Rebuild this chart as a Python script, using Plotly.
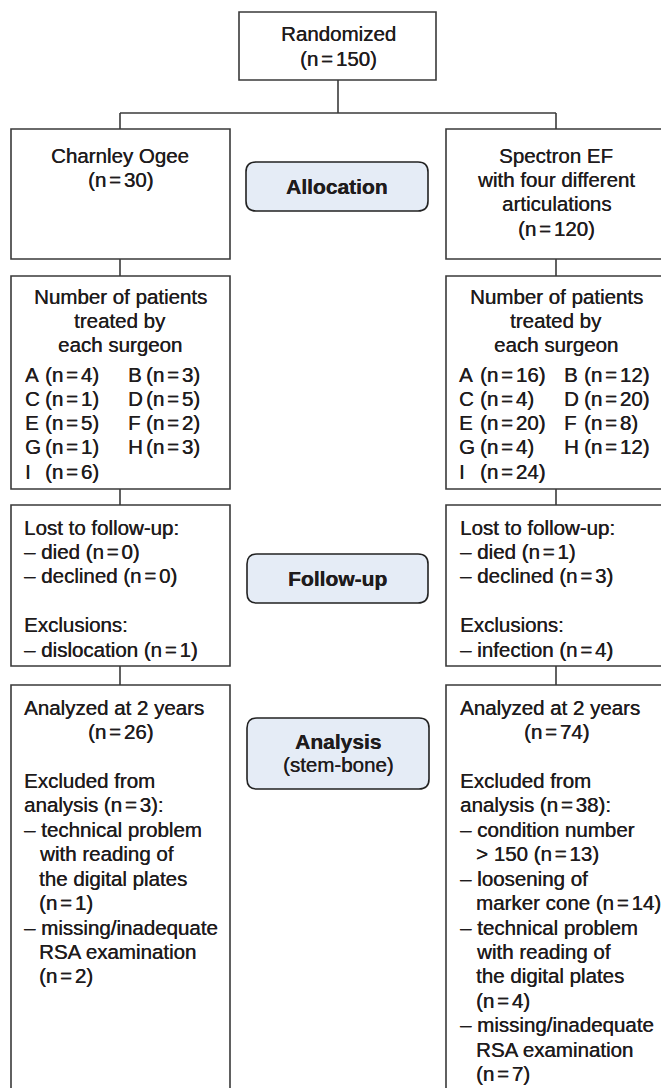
import plotly.graph_objects as go

# ---------------- content (data) ----------------
RANDOMIZED_N = 150
GROUPS = ["Charnley Ogee", "Spectron EF"]
GROUP_N = [30, 120]
SURGEONS = ["A", "B", "C", "D", "E", "F", "G", "H", "I"]
CHARNLEY_COUNTS = [4, 3, 1, 5, 5, 2, 1, 3, 6]
SPECTRON_COUNTS = [16, 12, 4, 20, 20, 8, 4, 12, 24]
DIED = [0, 1]
DECLINED = [0, 3]
EXCLUSION_REASON = ["dislocation", "infection"]
EXCLUSION_N = [1, 4]
ANALYZED_N = [26, 74]
EXCLUDED_N = [3, 38]
CHARNLEY_EXCL = [1, 2]            # technical problem, missing/inadequate
SPECTRON_EXCL = [13, 14, 4, 7]    # condition number, loosening, technical, missing
STAGES = ["Allocation", "Follow-up", "Analysis"]
STAGE_SUB = ["", "", "(stem-bone)"]

GAP = "<span style='font-size:10px'>\u00a0</span>"

def n(v):
    return "(n%s=%s%d)" % (GAP, GAP, v)

# ---------------- styles / layout ----------------
W, H = 661, 1088
FONT = "Liberation Sans, Arial, Helvetica, sans-serif"
FS = 20.5
TXT = "#1f1c1d"
SHADOW = "0.35px 0 0 #1f1c1d"
LINE = "#3a3a3a"
LW = 1.6
STAGE_FILL = "#e5ecf6"
LS = 24.45

COLS = [dict(x0=11, x1=230, cx=120, left=22, ind=37, let1=23, par1=43, let2=126, par2=144),
        dict(x0=446, x1=666, cx=556, left=458, ind=474, let1=457, par1=478, let2=562, par2=582)]

shapes = []
annotations = []

def rect(x0, y0, x1, y1):
    shapes.append(dict(type="rect", x0=x0, x1=x1, y0=y0, y1=y1, xref="x", yref="y",
                       line=dict(color=LINE, width=LW), fillcolor="rgba(0,0,0,0)"))

def seg(x0, y0, x1, y1):
    shapes.append(dict(type="line", x0=x0, x1=x1, y0=y0, y1=y1, xref="x", yref="y",
                       line=dict(color=LINE, width=LW)))

def rrect(x0, y0, x1, y1, r=10):
    p = (f"M {x0+r},{y0} L {x1-r},{y0} Q {x1},{y0} {x1},{y0+r} L {x1},{y1-r} "
         f"Q {x1},{y1} {x1-r},{y1} L {x0+r},{y1} Q {x0},{y1} {x0},{y1-r} "
         f"L {x0},{y0+r} Q {x0},{y0} {x0+r},{y0} Z")
    shapes.append(dict(type="path", path=p, xref="x", yref="y",
                       line=dict(color="#222222", width=LW), fillcolor=STAGE_FILL))

def text(x, y, s, anchor="center", bold=False, size=FS):
    if bold:
        s = "<b>" + s + "</b>"
    annotations.append(dict(x=x, y=y, xref="x", yref="y", text=s, showarrow=False,
                            xanchor=anchor, yanchor="middle", align=anchor,
                            font=dict(family=FONT, size=size, color=TXT, shadow=SHADOW)))

def block(col, y0, lines):
    for i, (s, a) in enumerate(lines):
        if not s:
            continue
        y = y0 + i * LS
        if a == "c":
            text(col["cx"], y, s, "center")
        elif a == "l":
            text(col["left"], y, s, "left")
        else:
            text(col["ind"], y, s, "left")

# Randomized
rect(239, 12, 436, 80)
text(338, 33, "Randomized")
text(338, 58, n(RANDOMIZED_N))
seg(338, 80, 338, 113)
seg(COLS[0]["cx"], 113, COLS[1]["cx"], 113)

count_sets = [CHARNLEY_COUNTS, SPECTRON_COUNTS]
group_lines = [[("Charnley Ogee", "c"), (n(GROUP_N[0]), "c")],
               [("Spectron EF", "c"), ("with four different", "c"), ("articulations", "c"),
                (n(GROUP_N[1]), "c")]]
analysis_lines = [
    [("Analyzed at 2 years", "l"), (n(ANALYZED_N[0]), "c"), ("", ""),
     ("Excluded from", "l"), ("analysis %s:" % n(EXCLUDED_N[0]), "l"),
     ("\u2013 technical problem", "l"), ("with reading of", "i"), ("the digital plates", "i"),
     (n(CHARNLEY_EXCL[0]), "i"), ("\u2013 missing/inadequate", "l"), ("RSA examination", "i"),
     (n(CHARNLEY_EXCL[1]), "i")],
    [("Analyzed at 2 years", "l"), (n(ANALYZED_N[1]), "c"), ("", ""),
     ("Excluded from", "l"), ("analysis %s:" % n(EXCLUDED_N[1]), "l"),
     ("\u2013 condition number", "l"), ("> 150 %s" % n(SPECTRON_EXCL[0]), "i"),
     ("\u2013 loosening of", "l"), ("marker cone %s" % n(SPECTRON_EXCL[1]), "i"),
     ("\u2013 technical problem", "l"), ("with reading of", "i"), ("the digital plates", "i"),
     (n(SPECTRON_EXCL[2]), "i"), ("\u2013 missing/inadequate", "l"), ("RSA examination", "i"),
     (n(SPECTRON_EXCL[3]), "i")],
]

for k, col in enumerate(COLS):
    cx = col["cx"]
    seg(cx, 113, cx, 129)
    # group box
    rect(col["x0"], 129, col["x1"], 259)
    block(col, 155, group_lines[k])
    seg(cx, 259, cx, 276)
    # surgeon box
    rect(col["x0"], 276, col["x1"], 489)
    block(col, 296, [("Number of patients", "c"), ("treated by", "c"), ("each surgeon", "c")])
    counts = count_sets[k]
    for i, (s, c) in enumerate(zip(SURGEONS, counts)):
        row, cc = divmod(i, 2)
        y = 374 + row * 24.25
        lx = col["let1"] if cc == 0 else col["let2"]
        px = col["par1"] if cc == 0 else col["par2"]
        text(lx, y, s, "left")
        text(px, y, n(c), "left")
    seg(cx, 489, cx, 505)
    # follow-up box
    rect(col["x0"], 505, col["x1"], 666)
    block(col, 527, [("Lost to follow-up:", "l"), ("\u2013 died %s" % n(DIED[k]), "l"),
                     ("\u2013 declined %s" % n(DECLINED[k]), "l"), ("", ""),
                     ("Exclusions:", "l"),
                     ("\u2013 %s %s" % (EXCLUSION_REASON[k], n(EXCLUSION_N[k])), "l")])
    seg(cx, 666, cx, 685)
    # analysis box (runs off the bottom)
    rect(col["x0"], 685, col["x1"], 1100)
    block(col, 707, analysis_lines[k])

# stage boxes
stage_boxes = [(246, 162, 428, 211), (247, 554, 428, 603), (247, 718, 429, 789)]
for (x0, y0, x1, y1), lab, sub in zip(stage_boxes, STAGES, STAGE_SUB):
    rrect(x0, y0, x1, y1)
    cx = (x0 + x1) / 2
    if sub:
        text(cx, (y0 + y1) / 2 - 12, lab, bold=True, size=21)
        text(cx, (y0 + y1) / 2 + 11, sub)
    else:
        text(cx, (y0 + y1) / 2, lab, bold=True, size=21)

fig = go.Figure()
fig.update_layout(
    width=W, height=H, autosize=False,
    margin=dict(l=0, r=0, t=0, b=0),
    paper_bgcolor="white", plot_bgcolor="white",
    xaxis=dict(range=[0, W], visible=False, fixedrange=True),
    yaxis=dict(range=[H, 0], visible=False, fixedrange=True),
    shapes=shapes, annotations=annotations, showlegend=False,
)
fig.write_html("out.html", config={"displayModeBar": False},
               post_script="document.body.style.margin='0px';document.body.style.overflow='hidden';")
